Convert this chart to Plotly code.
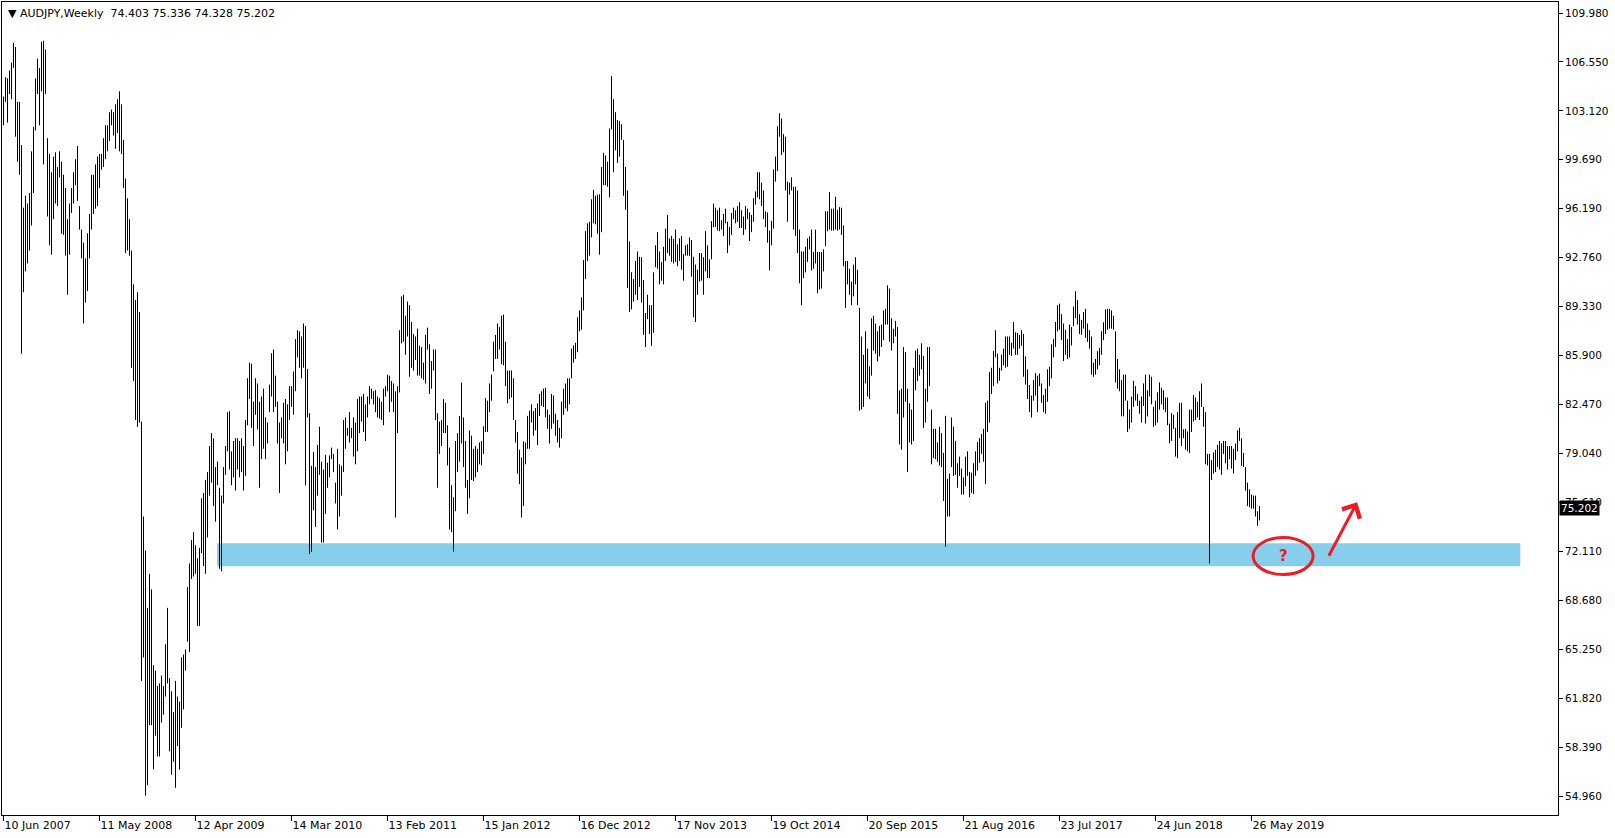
import plotly.graph_objects as go

# ---------------- data (weekly AUDJPY high / low) -------------
symbol_title = "AUDJPY,Weekly"
last_open, last_high, last_low, last_close = 74.403, 75.336, 74.328, 75.202

high_2007_09 = [
    104.11, 105.46, 105.39, 105.94, 106.49, 107.88, 107.59, 103.74, 103.74, 100.70,
    96.30, 97.14, 96.59, 97.33, 100.26, 101.98, 105.39, 106.78, 106.12, 107.96,
    108.03, 107.41, 101.18, 100.08, 98.79, 99.89, 100.19, 99.16, 100.26, 99.53,
    98.61, 97.69, 95.49, 96.59, 97.69, 98.79, 99.71, 100.63, 96.41, 94.76,
    93.84, 92.74, 94.50, 95.86, 98.61, 98.61, 99.34, 99.89, 100.08, 100.08,
    101.18, 102.09, 102.09, 103.01, 103.19, 103.01, 103.56, 103.92, 104.48, 103.56,
    101.07, 98.35, 96.96, 95.49, 93.29, 90.91, 89.81, 90.36, 88.97, 81.27,
    74.60, 72.22, 68.18, 70.57, 69.47, 64.15, 63.78, 62.69, 62.87, 63.42,
    62.69, 65.62, 68.18, 63.24, 62.32, 60.85, 63.05, 61.95, 61.59,
]
low_2007_09 = [
    102.09, 103.74, 102.28, 104.29, 103.92, 106.12, 101.29, 99.53, 98.61, 86.04,
    90.36, 91.83, 92.38, 93.29, 95.05, 97.33, 101.73, 104.29, 102.09, 104.48,
    99.34, 104.29, 95.68, 93.66, 93.00, 95.49, 96.59, 96.41, 98.43, 94.47,
    94.39, 92.93, 90.18, 93.00, 95.93, 96.59, 97.88, 96.78, 94.76, 92.74,
    88.16, 89.63, 90.44, 92.74, 94.76, 95.86, 96.23, 96.41, 97.69, 98.97,
    99.16, 99.71, 100.26, 100.99, 102.09, 101.36, 100.44, 101.54, 100.26, 100.08,
    97.69, 93.11, 93.29, 92.93, 85.05, 84.13, 81.38, 80.90, 81.20, 63.05,
    64.70, 54.99, 55.72, 59.94, 59.94, 56.82, 59.20, 57.74, 57.74, 60.12,
    60.67, 61.95, 62.87, 58.10, 56.45, 57.37, 55.54, 58.47, 56.82,
]

high_2009_10 = [
    64.70, 64.89, 65.25, 69.65, 71.30, 72.95, 73.50, 72.58, 71.67, 72.40,
    75.88, 76.25, 77.17, 77.72, 79.55, 80.46, 80.10, 78.08, 78.45, 76.62,
    76.07, 78.08, 79.55, 81.93, 82.00, 79.18, 79.91, 80.10, 80.10, 79.91,
    80.10, 79.55, 81.38, 84.31, 85.41, 85.34, 82.66, 84.31, 83.95, 82.66,
    83.03, 83.58, 81.56, 81.20, 83.87, 86.07, 86.33, 84.50, 82.66, 81.20,
    81.56, 82.59, 82.85, 82.48, 83.76, 83.76, 84.79, 87.06, 87.69, 87.61,
    87.25, 88.16, 87.98, 84.97, 81.86, 78.16, 79.14, 78.08, 79.62, 80.90,
    78.45, 77.90, 78.93, 78.38, 78.89, 79.44, 79.00, 76.98, 79.36, 78.27,
    78.16, 81.38, 81.56, 80.83, 81.93, 80.83, 81.56, 81.20, 82.85, 83.03,
]
low_2009_10 = [
    59.75, 61.04, 63.78, 65.80, 65.07, 70.20, 70.38, 70.57, 66.90, 66.90,
    72.03, 71.12, 70.57, 73.13, 76.07, 76.98, 75.33, 74.23, 76.80, 70.93,
    70.75, 75.52, 77.53, 79.18, 77.90, 76.80, 77.35, 76.43, 77.90, 77.35,
    77.72, 76.43, 77.46, 81.01, 82.85, 80.83, 79.55, 81.75, 80.72, 76.62,
    78.63, 79.36, 78.63, 79.73, 81.93, 83.03, 81.93, 82.30, 79.73, 76.25,
    80.10, 79.73, 78.27, 79.18, 81.38, 82.30, 81.75, 83.40, 85.78, 85.05,
    84.31, 85.05, 76.80, 81.56, 71.96, 72.11, 75.04, 73.87, 76.07, 77.53,
    72.77, 72.77, 74.78, 76.62, 77.35, 78.63, 77.72, 75.52, 73.68, 74.60,
    76.07, 77.72, 79.36, 80.28, 79.80, 80.10, 78.81, 78.27, 79.18, 80.46,
]

high_2010_12 = [
    83.03, 83.21, 82.48, 83.03, 83.76, 83.58, 83.40, 83.47, 83.03, 82.92,
    82.66, 83.58, 83.76, 84.57, 84.50, 84.13, 83.95, 83.40, 83.76, 87.69,
    90.07, 90.18, 88.71, 89.70, 89.45, 88.27, 87.43, 87.25, 87.80, 86.59,
    86.51, 85.41, 87.36, 87.87, 86.70, 85.52, 86.33, 86.33, 81.86, 81.27,
    81.38, 82.85, 82.59, 81.01, 79.44, 76.80, 75.96, 79.91, 80.46, 81.67,
    84.02, 81.56, 79.91, 77.17, 80.65, 80.28, 79.36, 79.55, 79.36, 79.80,
    79.91, 80.94, 82.92, 82.74, 83.95, 84.57, 86.88, 87.36, 88.16, 87.91,
    88.71, 88.79, 86.88, 84.86, 84.86, 84.86, 84.31, 81.38, 80.54, 79.29,
    78.74, 79.88, 79.80, 81.67, 82.04, 82.48, 82.00, 82.22, 82.55, 83.21,
]
low_2010_12 = [
    81.27, 80.54, 79.91, 81.56, 82.48, 82.85, 82.48, 81.93, 81.56, 81.49,
    81.38, 81.01, 83.03, 83.40, 81.93, 82.66, 81.93, 74.53, 80.46, 83.32,
    86.77, 86.88, 85.96, 87.25, 84.42, 85.05, 84.86, 85.60, 84.50, 84.50,
    84.31, 84.20, 83.95, 86.33, 83.21, 83.58, 84.86, 81.38, 76.62, 79.00,
    79.55, 80.46, 80.46, 78.19, 73.68, 73.50, 72.14, 74.97, 77.72, 78.45,
    79.73, 78.08, 76.62, 74.78, 75.88, 77.17, 77.09, 77.35, 77.72, 78.27,
    78.19, 79.00, 80.54, 80.54, 81.93, 82.74, 84.79, 85.67, 85.67, 86.33,
    85.30, 85.23, 83.76, 82.55, 82.85, 82.96, 81.38, 79.80, 77.61, 76.87,
    74.53, 75.33, 78.27, 79.36, 79.36, 81.20, 80.28, 80.65, 79.62, 81.67,
]

high_2012_14 = [
    83.40, 83.58, 83.65, 82.11, 81.75, 83.21, 83.10, 81.82, 81.38, 80.83,
    82.66, 83.58, 83.95, 84.31, 84.31, 86.40, 86.62, 86.81, 88.60, 89.08,
    90.00, 92.63, 94.65, 95.20, 95.31, 96.89, 97.55, 97.14, 97.22, 97.25,
    99.16, 100.15, 99.97, 99.53, 101.87, 105.54, 103.92, 103.01, 102.46, 102.39,
    102.17, 101.07, 99.16, 97.51, 93.92, 91.76, 91.28, 92.56, 93.22, 92.85,
    92.82, 91.21, 88.90, 90.18, 89.45, 89.45, 91.76, 93.66, 94.58, 93.22,
    92.49, 93.55, 94.83, 95.79, 94.14, 94.32, 94.10, 94.76, 93.73, 94.14,
    94.32, 93.04, 93.66, 93.73, 94.21, 94.03, 92.85, 92.30, 91.94, 93.11,
    93.11, 92.82, 94.65, 93.66, 92.67, 95.35, 96.59, 96.30, 96.12, 96.30,
]
low_2012_14 = [
    82.37, 82.30, 81.56, 80.76, 79.73, 80.76, 81.13, 80.28, 79.80, 79.44,
    80.10, 81.75, 82.19, 82.00, 82.48, 84.31, 85.41, 85.67, 86.15, 87.61,
    87.72, 89.08, 91.28, 92.56, 92.93, 94.21, 95.20, 95.13, 94.47, 93.00,
    94.58, 97.88, 97.88, 97.77, 97.03, 101.80, 98.79, 100.33, 99.45, 99.89,
    101.07, 97.14, 96.15, 90.66, 88.97, 89.15, 89.70, 90.18, 89.81, 90.73,
    89.63, 87.36, 86.51, 88.46, 87.43, 86.59, 87.50, 92.12, 92.01, 90.91,
    91.17, 90.91, 92.56, 93.11, 92.93, 92.49, 92.38, 92.49, 92.19, 92.56,
    91.94, 91.17, 92.93, 92.93, 92.93, 91.46, 88.60, 88.27, 90.18, 91.10,
    91.17, 90.18, 91.83, 91.35, 91.35, 92.67, 94.94, 94.94, 94.69, 94.65,
]

high_2014_16 = [
    95.42, 95.86, 96.23, 95.31, 94.94, 95.93, 96.30, 96.12, 96.41, 96.67,
    96.12, 95.68, 96.41, 96.23, 95.97, 95.79, 96.96, 97.44, 98.79, 98.79,
    98.06, 97.51, 96.05, 95.97, 94.69, 95.38, 98.98, 99.89, 102.02, 102.94,
    102.57, 101.47, 101.29, 98.13, 98.06, 98.43, 97.77, 97.77, 97.51, 94.76,
    93.22, 93.22, 93.55, 94.14, 94.28, 94.76, 93.18, 94.76, 93.18, 93.18,
    93.18, 93.37, 96.05, 96.05, 97.40, 96.23, 96.23, 97.07, 96.15, 96.34,
    96.30, 95.05, 92.56, 92.56, 92.01, 91.10, 92.30, 92.82, 91.94, 89.26,
    87.25, 85.96, 87.61, 86.40, 85.16, 88.53, 88.71, 88.16, 87.61, 87.98,
    88.09, 89.08, 89.19, 90.84, 90.62, 88.53, 87.80, 88.35, 87.91, 83.47,
]
low_2014_16 = [
    94.76, 94.32, 95.20, 93.11, 93.66, 94.39, 95.49, 95.20, 95.31, 94.87,
    94.87, 94.39, 94.76, 95.49, 93.96, 94.58, 95.31, 96.52, 97.03, 96.89,
    96.41, 95.49, 94.94, 93.84, 91.90, 93.66, 94.83, 98.13, 98.87, 101.29,
    100.00, 100.19, 97.51, 95.31, 97.22, 97.51, 94.76, 94.32, 93.11, 90.99,
    89.45, 91.35, 91.76, 92.49, 93.37, 91.90, 92.01, 92.38, 90.29, 90.55,
    90.62, 91.83, 93.59, 94.65, 94.76, 94.69, 94.69, 94.76, 94.69, 94.76,
    94.39, 92.19, 89.26, 90.91, 90.18, 89.45, 90.07, 90.91, 89.45, 82.04,
    82.11, 82.30, 83.95, 83.03, 82.85, 84.50, 86.26, 86.04, 85.49, 85.85,
    86.51, 86.99, 88.09, 88.09, 86.88, 86.26, 86.77, 87.25, 81.82, 79.66,
]

high_2016_17 = [
    83.58, 86.51, 86.15, 83.58, 82.55, 82.11, 85.05, 86.26, 86.40, 85.96,
    86.77, 85.89, 83.58, 86.51, 86.51, 82.11, 80.76, 80.76, 79.80, 80.90,
    80.46, 79.07, 81.67, 77.24, 77.61, 81.56, 80.90, 79.91, 78.34, 78.81,
    77.97, 77.35, 78.81, 79.18, 77.72, 77.68, 78.34, 79.18, 79.84, 80.10,
    80.39, 80.76, 82.59, 82.74, 84.75, 85.05, 86.22, 87.69, 86.04, 85.05,
    85.96, 86.40, 87.25, 87.25, 87.25, 86.81, 88.27, 87.54, 87.50, 87.36,
    87.69, 87.43, 85.85, 84.94, 83.84, 83.10, 84.20, 84.68, 84.50, 84.64,
    83.95, 83.14, 83.58, 84.94, 85.12, 86.70, 87.06, 88.27, 89.45, 89.56,
    88.82, 88.16, 87.72, 87.06, 88.09, 87.91, 89.34, 90.43, 89.81, 88.82,
]
low_2016_17 = [
    79.29, 81.56, 82.66, 77.72, 79.80, 79.66, 79.91, 83.47, 84.13, 84.50,
    84.94, 80.83, 81.20, 82.66, 83.76, 78.27, 78.70, 78.63, 78.45, 78.19,
    78.08, 75.70, 72.47, 74.60, 74.60, 78.08, 77.46, 77.53, 76.62, 77.46,
    76.14, 76.14, 76.73, 77.46, 75.96, 76.25, 76.18, 77.46, 77.83, 78.38,
    79.00, 78.45, 76.87, 80.54, 81.20, 83.21, 83.76, 85.78, 83.95, 84.13,
    84.86, 85.23, 85.05, 85.12, 85.96, 85.89, 86.40, 85.96, 85.96, 86.40,
    86.59, 84.42, 83.87, 82.85, 81.93, 81.56, 82.74, 83.10, 81.93, 83.76,
    82.59, 81.93, 81.82, 82.66, 83.76, 84.31, 85.78, 86.51, 87.61, 87.72,
    86.99, 85.52, 85.96, 85.67, 85.78, 86.62, 87.98, 88.53, 88.09, 87.43,
]

high_2017_19 = [
    88.42, 88.97, 89.19, 88.16, 87.69, 87.25, 85.41, 85.67, 86.22, 86.44,
    87.61, 88.24, 89.15, 89.19, 89.19, 89.08, 88.71, 87.61, 85.67, 84.94,
    84.20, 84.57, 84.57, 82.74, 82.11, 83.03, 84.13, 83.76, 83.21, 82.74,
    83.03, 83.95, 84.57, 83.47, 84.57, 84.42, 82.30, 82.74, 83.32, 84.02,
    83.65, 83.47, 82.96, 82.96, 81.13, 81.86, 81.75, 80.83, 81.93, 82.59,
    82.59, 80.72, 80.76, 80.57, 82.11, 82.11, 83.14, 82.96, 82.66, 83.40,
    83.95, 82.30, 81.93, 79.00, 79.00, 78.56, 79.11, 79.29, 79.62, 79.91,
    79.73, 79.91, 79.91, 79.55, 79.55, 79.55, 79.36, 79.73, 80.65, 80.83,
    80.10, 79.07, 78.08, 76.98, 76.51, 76.14, 76.07, 76.07, 74.97, last_high,
]
low_2017_19 = [
    87.36, 87.80, 87.14, 86.88, 86.40, 84.57, 84.42, 84.57, 84.94, 85.23,
    85.96, 86.99, 87.43, 87.72, 87.80, 87.80, 87.72, 84.02, 83.58, 83.40,
    81.64, 81.64, 82.74, 80.54, 80.76, 81.20, 82.30, 82.74, 82.37, 81.82,
    81.20, 82.37, 81.13, 81.64, 83.03, 82.48, 80.90, 81.01, 81.20, 82.11,
    82.48, 82.11, 81.93, 81.01, 79.73, 79.91, 80.76, 78.81, 78.70, 80.10,
    79.55, 80.10, 79.29, 79.18, 79.07, 80.54, 81.27, 81.38, 81.56, 81.38,
    82.30, 80.90, 78.27, 78.19, 71.30, 77.17, 77.61, 77.72, 78.08, 77.90,
    77.53, 79.00, 78.34, 77.90, 78.63, 77.97, 77.61, 78.56, 79.18, 79.91,
    78.16, 78.08, 76.43, 75.33, 75.26, 75.15, 75.15, 74.60, 73.94, last_low,
]

# axis labels
x_tick_weeks = [0, 48, 96, 144, 192, 240, 288, 336, 384, 432, 480, 528, 576, 624]
x_tick_labels = ["10 Jun 2007", "11 May 2008", "12 Apr 2009", "14 Mar 2010",
                 "13 Feb 2011", "15 Jan 2012", "16 Dec 2012", "17 Nov 2013",
                 "19 Oct 2014", "20 Sep 2015", "21 Aug 2016", "23 Jul 2017",
                 "24 Jun 2018", "26 May 2019"]
y_tick_labels = ["109.980", "106.550", "103.120", "99.690", "96.190", "92.760",
                 "89.330", "85.900", "82.470", "79.040", "75.610", "72.110",
                 "68.680", "65.250", "61.820", "58.390", "54.960"]
y_top_tick, y_bottom_tick = 109.98, 54.96

# support zone
zone_low, zone_high = 71.10, 72.72
zone_start_week, zone_end_week = 106.8, 758.4

# ---------------- build -------------
highs = high_2007_09 + high_2009_10 + high_2010_12 + high_2012_14 + high_2014_16 + high_2016_17 + high_2017_19
lows = low_2007_09 + low_2009_10 + low_2010_12 + low_2012_14 + low_2014_16 + low_2016_17 + low_2017_19
n = min(len(highs), len(lows))

xs, ys = [], []
for i in range(n):
    xs += [i, i, None]
    ys += [lows[i], highs[i], None]

step = (y_top_tick - y_bottom_tick) / (len(y_tick_labels) - 1)
y_tick_vals = [y_top_tick - k * step for k in range(len(y_tick_labels))]

W, H = 1615, 838
ml, mr, mt, mb = 2, 57, 2, 23
px_per_week = 2.0
x0 = -0.75
x1 = x0 + (W - ml - mr) / px_per_week
px_per_unit = 783.0 / (y_top_tick - y_bottom_tick)
y_hi = y_top_tick + 11 / px_per_unit
y_lo = y_hi - (H - mt - mb) / px_per_unit

FONT = "DejaVu Sans"

fig = go.Figure()
fig.add_trace(go.Scatter(x=xs, y=ys, mode="lines",
                         line=dict(color="#000000", width=1),
                         hoverinfo="skip", showlegend=False))

fig.add_shape(type="rect", xref="x", yref="y",
              x0=zone_start_week, x1=zone_end_week, y0=zone_low, y1=zone_high,
              fillcolor="#87CEEB", line=dict(width=0), layer="below")

# red ellipse with question mark
ell_cx, ell_cy = 639.8, 71.82
fig.add_shape(type="circle", xref="x", yref="y",
              x0=ell_cx - 15.0, x1=ell_cx + 15.0, y0=ell_cy - 1.30, y1=ell_cy + 1.30,
              line=dict(color="#ED1C24", width=3), layer="above")
fig.add_annotation(x=ell_cx, y=ell_cy, xref="x", yref="y", text="<b>?</b>",
                   showarrow=False, font=dict(family=FONT, size=15, color="#ED1C24"))

# red arrow
fig.add_annotation(x=676.8, y=75.6, xref="x", yref="y", ax=-29, ay=55,
                   text="", showarrow=True, arrowhead=4, arrowsize=1.3,
                   arrowwidth=3, arrowcolor="#ED1C24")

# title
fig.add_annotation(x=0, y=1, xref="paper", yref="paper", xanchor="left", yanchor="top",
                   xshift=4, yshift=-3, showarrow=False, align="left",
                   text="\u25BC\u00A0" + symbol_title + "\u00A0\u00A0" +
                        "\u00A0".join(f"{v:.3f}" for v in (last_open, last_high, last_low, last_close)),
                   font=dict(family=FONT, size=11, color="#000000"))

# current price label
fig.add_annotation(x=1, y=last_close, xref="paper", yref="y", xanchor="left",
                   xshift=1, showarrow=False, text=f"{last_close:.3f}",
                   bgcolor="#000000", borderpad=1,
                   font=dict(family=FONT, size=10.5, color="#FFFFFF"))

fig.update_layout(
    width=W, height=H,
    margin=dict(l=ml, r=mr, t=mt, b=mb, autoexpand=False),
    paper_bgcolor="#FFFFFF", plot_bgcolor="#FFFFFF",
    showlegend=False,
    font=dict(family=FONT, size=10, color="#000000"),
    xaxis=dict(range=[x0, x1], showgrid=False, zeroline=False, automargin=False,
               showline=True, linecolor="#000000", linewidth=1, mirror=True,
               tickmode="array", tickvals=x_tick_weeks, ticktext=x_tick_labels,
               ticks="outside", ticklen=5, tickcolor="#000000", tickwidth=1,
               ticklabelposition="outside right",
               tickfont=dict(family=FONT, size=11, color="#000000")),
    yaxis=dict(range=[y_lo, y_hi], side="right", showgrid=False, zeroline=False, automargin=False,
               showline=True, linecolor="#000000", linewidth=1, mirror=True,
               tickmode="array", tickvals=y_tick_vals, ticktext=y_tick_labels,
               ticks="outside", ticklen=4, tickcolor="#000000", tickwidth=1,
               tickfont=dict(family=FONT, size=10.5, color="#000000")),
)

fig.write_html("out.html", config={"displayModeBar": False},
               post_script="document.body.style.margin='0px';document.body.style.overflow='hidden';")
